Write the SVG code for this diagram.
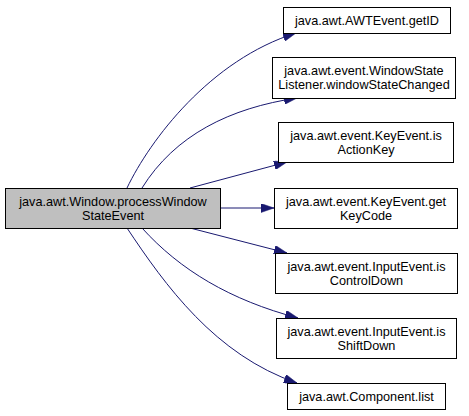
<svg xmlns="http://www.w3.org/2000/svg" width="469" height="416" viewBox="0 0 469 416">
<style>
.box{fill:#ffffff;stroke:#000000;stroke-width:1}
.main{fill:#bfbfbf;stroke:#000000;stroke-width:1}
text{font-family:"Liberation Sans",Arial,sans-serif;font-size:12.7px;fill:#000000;text-anchor:middle}
.edge{fill:none;stroke:#191970;stroke-width:1;marker-end:url(#arrow)}
</style>
<defs>
<marker id="arrow" viewBox="0 0 13 9" refX="13" refY="4.5" markerWidth="13" markerHeight="9" markerUnits="userSpaceOnUse" orient="auto">
<path d="M0,0 L13,4.5 L0,9 z" fill="#191970" stroke="#191970" stroke-width="0.5"/>
</marker>
</defs>
<rect width="469" height="416" fill="#ffffff"/>
<g id="connectors">
<path class="edge" d="M127,188 C150,140 210,60 296,33"/>
<path class="edge" d="M142,188 C175,135 230,108 297,98"/>
<path class="edge" d="M190,188 L287,162"/>
<path class="edge" d="M220,208 L274,208"/>
<path class="edge" d="M190,228 L287,253"/>
<path class="edge" d="M142,228 C180,270 230,300 298,318"/>
<path class="edge" d="M127,228 C165,285 215,355 297,383"/>
</g>
<g id="node-main">
<rect class="main" x="5.5" y="188.5" width="215" height="40"/>
<text x="113" y="205.5">java.awt.Window.processWindow</text>
<text x="113" y="219.5">StateEvent</text>
</g>
<g id="node-getID">
<rect class="box" x="283.5" y="7.5" width="167" height="26"/>
<text x="367" y="25">java.awt.AWTEvent.getID</text>
</g>
<g id="node-windowStateChanged">
<rect class="box" x="272.5" y="57.5" width="183" height="41"/>
<text x="364" y="75">java.awt.event.WindowState</text>
<text x="364" y="89">Listener.windowStateChanged</text>
</g>
<g id="node-isActionKey">
<rect class="box" x="278.5" y="122.5" width="175" height="40"/>
<text x="366" y="139.5">java.awt.event.KeyEvent.is</text>
<text x="366" y="153.5">ActionKey</text>
</g>
<g id="node-getKeyCode">
<rect class="box" x="274.5" y="188.5" width="183" height="40"/>
<text x="366" y="205.5">java.awt.event.KeyEvent.get</text>
<text x="366" y="219.5">KeyCode</text>
</g>
<g id="node-isControlDown">
<rect class="box" x="275.5" y="253.5" width="182" height="40"/>
<text x="366.5" y="270.5">java.awt.event.InputEvent.is</text>
<text x="366.5" y="284.5">ControlDown</text>
</g>
<g id="node-isShiftDown">
<rect class="box" x="276.5" y="318.5" width="180" height="40"/>
<text x="366.5" y="335.5">java.awt.event.InputEvent.is</text>
<text x="366.5" y="349.5">ShiftDown</text>
</g>
<g id="node-list">
<rect class="box" x="287.5" y="383.5" width="158" height="26"/>
<text x="366.5" y="401">java.awt.Component.list</text>
</g>
</svg>
